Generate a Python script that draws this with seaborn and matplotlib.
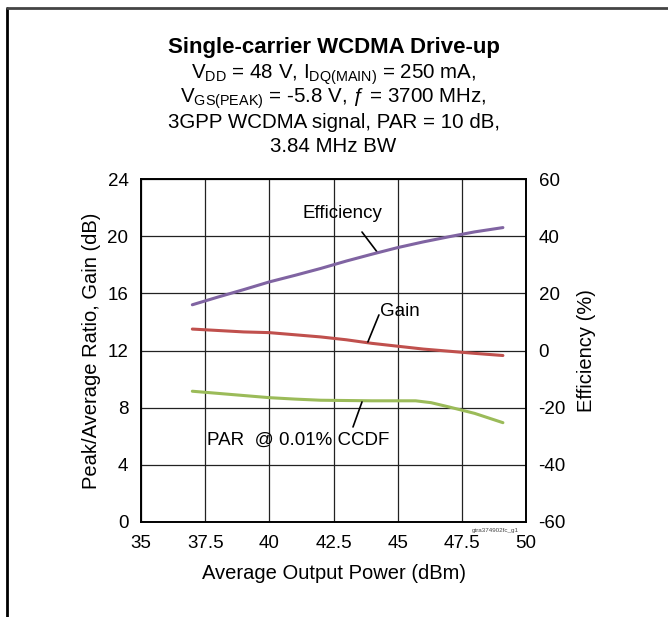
import numpy as np
import pandas as pd
import seaborn as sns
import matplotlib
matplotlib.use("Agg")
import matplotlib.pyplot as plt
from matplotlib.ticker import FuncFormatter
from matplotlib.lines import Line2D

# data
pout = [37, 38, 39, 40, 41, 42, 43, 44, 45, 46, 47, 48, 49.1]
efficiency = [16, 18.7, 21.3, 24, 26.3, 28.7, 31.3, 33.7, 36, 38, 39.8, 41.5, 43]
gain = [13.5, 13.4, 13.3, 13.25, 13.1, 12.95, 12.75, 12.5, 12.3, 12.1, 11.95, 11.8, 11.65]
par_pout = [37, 38, 39, 40, 41, 42, 43, 44, 45, 45.7, 46.3, 47, 48, 49.1]
par = [9.15, 9.0, 8.85, 8.7, 8.6, 8.52, 8.5, 8.48, 8.48, 8.48, 8.35, 8.05, 7.6, 6.95]

x_ticks = [35, 37.5, 40, 42.5, 45, 47.5, 50]
left_ticks = [0, 4, 8, 12, 16, 20, 24]
right_ticks = [-60, -40, -20, 0, 20, 40, 60]

c_eff = "#8064A2"
c_gain = "#C0504D"
c_par = "#9BBB59"

sns.set_theme(style="white")
plt.rcParams["font.family"] = ["Liberation Sans", "DejaVu Sans"]
plt.rcParams["mathtext.fontset"] = "custom"
plt.rcParams["mathtext.rm"] = "Liberation Sans"
plt.rcParams["mathtext.it"] = "Liberation Sans:italic"
plt.rcParams["axes.unicode_minus"] = False
plt.rcParams["text.color"] = "black"
plt.rcParams["axes.labelcolor"] = "black"

fig = plt.figure(figsize=(6.68, 6.17), dpi=100)
ax = fig.add_axes([141 / 668, 1 - 522 / 617, 385 / 668, 343 / 617])
ax2 = ax.twinx()

df = pd.DataFrame({"pout": pout, "gain": gain, "eff": efficiency})
dpar = pd.DataFrame({"pout": par_pout, "par": par})

sns.lineplot(data=df, x="pout", y="gain", ax=ax, color=c_gain, lw=2.2)
sns.lineplot(data=dpar, x="pout", y="par", ax=ax, color=c_par, lw=2.2)
sns.lineplot(data=df, x="pout", y="eff", ax=ax2, color=c_eff, lw=2.2)

ax.set_xlim(35, 50)
ax.set_ylim(0, 24)
ax2.set_ylim(-60, 60)
ax.set_xticks(x_ticks)
ax.xaxis.set_major_formatter(FuncFormatter(lambda v, p: "%g" % v))
ax.set_yticks(left_ticks)
ax2.set_yticks(right_ticks)
ax.grid(True, color="#222222", lw=0.9)
ax2.grid(False)
ax.set_axisbelow(True)

for a in (ax, ax2):
    for s in a.spines.values():
        s.set_color("black")
        s.set_linewidth(1.2)
    a.tick_params(length=0, labelsize=13.5, colors="black", pad=9)

ax.set_xlabel("Average Output Power (dBm)", fontsize=14.5, labelpad=9)
ax.set_ylabel("Peak/Average Ratio, Gain (dB)", fontsize=14.5, labelpad=5)
ax2.set_ylabel("Efficiency (%)", fontsize=14.5, labelpad=8)

# callouts
lk = dict(arrowstyle="-", color="black", lw=1.2, shrinkA=0, shrinkB=0)
ax.text(42.83, 21.62, "Efficiency", ha="center", va="center", fontsize=13.5)
ax.annotate("", xy=(44.23, 18.82), xytext=(43.61, 20.29), arrowprops=lk)
ax.text(45.1, 14.7, "Gain", ha="center", va="center", fontsize=13.5)
ax.annotate("", xy=(43.84, 12.6), xytext=(44.27, 14.49), arrowprops=lk)
ax.text(41.12, 5.74, "PAR  @ 0.01% CCDF", ha="center", va="center", fontsize=13.5)
ax.annotate("", xy=(43.26, 6.65), xytext=(43.61, 8.4), arrowprops=lk)
ax.text(0.92, -0.025, "gtra374902fc_g1", transform=ax.transAxes, ha="center",
        va="center", fontsize=4.5, color="#444444")

# title block
cx = (141 + 526) / 2 / 668
fig.text(cx, 1 - 48 / 617, "Single-carrier WCDMA Drive-up", ha="center",
         va="center", fontsize=16, fontweight="bold")
sub = [
    r"V$_{\rm DD}$ = 48 V, I$_{\rm DQ(MAIN)}$ = 250 mA,",
    r"V$_{\rm GS(PEAK)}$ = -5.8 V, ƒ = 3700 MHz,",
    "3GPP WCDMA signal, PAR = 10 dB,",
    "3.84 MHz BW",
]
for i, s in enumerate(sub):
    fig.text(cx, 1 - (75 + 24 * i) / 617, s, ha="center", va="center", fontsize=14.8)

# outer frame (left and top edges)
fig.add_artist(Line2D([7 / 668, 7 / 668], [0, 1 - 8 / 617], transform=fig.transFigure,
                      color="black", lw=2))
fig.add_artist(Line2D([7 / 668, 1], [1 - 8 / 617, 1 - 8 / 617], transform=fig.transFigure,
                      color="#444444", lw=2))

fig.savefig("out.png", dpi=100)
